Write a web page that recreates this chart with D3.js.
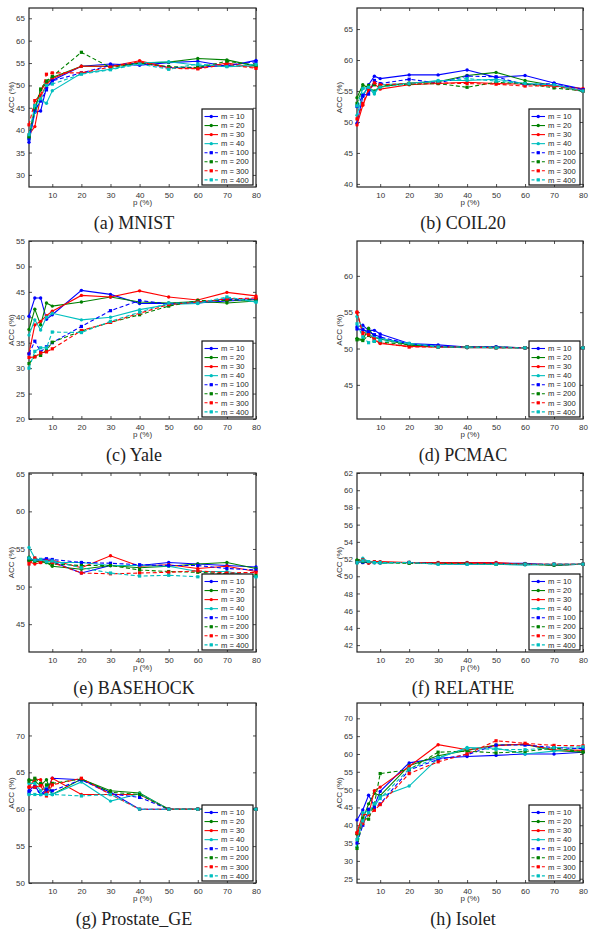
<!DOCTYPE html>
<html>
<head>
<meta charset="utf-8">
<script src="https://cdn.jsdelivr.net/npm/d3@7"></script>
<style>
  body { margin: 0; background: #fff; }
  svg { display: block; }
  .tick text { font-family: "Liberation Sans", Arial, sans-serif; font-size: 8px; fill: #333; }
  .tick line { stroke: #222; stroke-width: 0.8; }
</style>
</head>
<body>
<div id="chart"></div>
<script>
// x values shared by every panel
const pValues = [2, 4, 6, 8, 10, 20, 30, 40, 50, 60, 70, 80];
const xTicks = [10, 20, 30, 40, 50, 60, 70, 80];
const mLabels = ["m = 10", "m = 20", "m = 30", "m = 40", "m = 100", "m = 200", "m = 300", "m = 400"];
const seriesColors = ["#0000ff", "#008000", "#ff0000", "#00bfbf", "#0000ff", "#008000", "#ff0000", "#00bfbf"];

// ACC (%) per m, one row per series in the order of mLabels
const mnistAcc = [
  [37.3, 44.0, 44.3, 49.5, 51.1, 54.3, 54.8, 54.5, 55.1, 55.4, 54.3, 55.6],
  [38.5, 44.5, 49.0, 50.5, 51.8, 54.3, 54.3, 55.0, 55.2, 56.0, 55.7, 54.3],
  [39.0, 40.8, 47.5, 50.2, 51.5, 54.3, 54.3, 55.5, 54.0, 53.8, 55.0, 54.0],
  [38.0, 44.0, 46.8, 46.0, 48.8, 52.7, 53.6, 55.0, 55.3, 54.5, 54.2, 54.4],
  [38.0, 44.5, 46.5, 49.0, 51.0, 52.8, 54.5, 55.0, 54.0, 54.0, 54.5, 55.3],
  [38.5, 45.0, 49.2, 51.0, 52.0, 57.4, 54.0, 55.0, 54.2, 54.0, 55.4, 54.5],
  [41.2, 46.6, 47.8, 52.5, 52.8, 52.8, 54.1, 55.3, 53.8, 53.7, 54.7, 53.8],
  [39.0, 45.5, 47.0, 50.0, 50.3, 52.5, 53.5, 54.8, 53.6, 54.8, 54.2, 54.7]
];
const coilAcc = [
  [49.8, 54.1, 56.0, 57.4, 57.0, 57.6, 57.6, 58.4, 57.2, 57.5, 56.3, 55.3],
  [53.9, 56.0, 55.5, 55.0, 55.7, 56.3, 56.5, 57.5, 58.0, 56.7, 55.9, 55.0],
  [49.5, 52.7, 55.0, 56.2, 55.3, 56.0, 56.2, 56.4, 56.2, 56.1, 55.8, 55.4],
  [51.1, 54.5, 55.5, 54.5, 56.0, 56.2, 56.7, 56.7, 56.9, 56.2, 56.0, 54.9],
  [52.5, 54.3, 54.5, 56.7, 56.2, 56.9, 56.3, 57.4, 57.3, 56.0, 56.2, 55.2],
  [53.0, 55.5, 55.9, 56.0, 55.8, 56.1, 56.2, 55.6, 56.4, 56.2, 55.5, 55.0],
  [50.5, 53.0, 55.3, 56.3, 56.0, 56.2, 56.3, 56.2, 56.1, 55.8, 55.8, 55.0],
  [52.6, 55.4, 55.6, 54.8, 55.6, 56.2, 56.6, 57.0, 56.6, 56.2, 56.0, 55.0]
];
const yaleAcc = [
  [40.2, 43.8, 43.8, 39.6, 40.5, 45.3, 44.5, 42.7, 42.7, 42.8, 43.2, 43.5],
  [37.6, 41.6, 38.5, 42.8, 42.2, 43.0, 44.0, 43.0, 42.8, 43.1, 42.8, 43.2],
  [32.9, 38.5, 39.2, 40.3, 41.2, 44.3, 44.0, 45.2, 44.0, 43.4, 44.9, 44.2],
  [36.5, 39.5, 37.5, 40.0, 40.8, 39.5, 40.0, 41.5, 42.5, 42.7, 43.8, 43.0],
  [32.8, 35.3, 33.2, 34.2, 35.0, 38.2, 41.3, 43.3, 42.6, 43.0, 43.5, 43.6],
  [30.9, 32.3, 32.5, 33.5, 35.1, 37.3, 39.0, 40.5, 42.2, 43.3, 43.3, 43.5],
  [32.1, 32.2, 33.0, 33.2, 33.8, 37.4, 39.0, 40.8, 42.5, 43.0, 43.6, 43.8],
  [30.0, 33.3, 34.0, 34.0, 37.1, 37.0, 39.2, 41.0, 42.8, 42.8, 44.0, 43.0]
];
const pcmacAcc = [
  [53.0, 53.2, 52.5, 52.5, 52.0, 50.7, 50.5, 50.2, 50.2, 50.1, 50.1, 50.1],
  [51.4, 51.2, 52.8, 51.5, 51.3, 50.5, 50.2, 50.2, 50.2, 50.1, 50.1, 50.1],
  [55.0, 52.2, 52.1, 51.2, 50.7, 50.3, 50.2, 50.1, 50.1, 50.1, 50.1, 50.1],
  [54.4, 52.7, 51.9, 51.6, 51.4, 50.7, 50.3, 50.1, 50.1, 50.1, 50.1, 50.1],
  [52.7, 52.6, 52.3, 51.9, 51.6, 50.6, 50.3, 50.2, 50.2, 50.1, 50.1, 50.1],
  [51.2, 51.1, 51.8, 51.0, 50.9, 50.5, 50.2, 50.2, 50.1, 50.1, 50.1, 50.1],
  [55.0, 52.0, 51.9, 51.3, 50.8, 50.2, 50.2, 50.2, 50.1, 50.1, 50.1, 50.1],
  [53.4, 51.6, 50.8, 51.0, 51.1, 50.7, 50.2, 50.2, 50.1, 50.1, 50.1, 50.1]
];
const basehockAcc = [
  [53.5, 53.6, 53.5, 53.6, 53.3, 51.8, 52.8, 52.8, 53.2, 53.0, 52.8, 52.6],
  [53.9, 53.3, 53.4, 53.2, 52.7, 52.3, 52.8, 52.5, 52.7, 53.0, 53.2, 52.4],
  [53.3, 53.0, 53.2, 53.4, 53.5, 52.5, 54.1, 52.7, 52.9, 52.4, 52.7, 52.0],
  [55.2, 53.8, 53.5, 53.4, 53.2, 53.2, 52.8, 52.8, 52.7, 52.0, 52.0, 51.3],
  [53.7, 53.5, 53.6, 53.7, 53.6, 53.2, 53.1, 52.9, 52.8, 52.8, 52.4, 52.2],
  [53.5, 53.4, 53.3, 53.2, 53.0, 52.8, 52.8, 52.2, 52.0, 51.9, 51.7, 51.5],
  [53.0, 53.8, 53.2, 53.4, 53.2, 51.8, 51.7, 51.8, 51.9, 52.1, 51.8, 51.9],
  [53.8, 53.5, 53.6, 53.3, 53.4, 52.5, 51.8, 51.4, 51.5, 51.3, 51.5, 51.3]
];
const relatheAcc = [
  [51.6, 51.8, 51.7, 51.6, 51.6, 51.6, 51.5, 51.4, 51.5, 51.5, 51.3, 51.4],
  [51.9, 51.6, 51.7, 51.6, 51.6, 51.6, 51.5, 51.5, 51.4, 51.4, 51.3, 51.4],
  [51.7, 51.8, 51.5, 51.7, 51.7, 51.6, 51.6, 51.6, 51.6, 51.4, 51.4, 51.4],
  [51.5, 52.1, 51.7, 51.6, 51.5, 51.6, 51.4, 51.4, 51.4, 51.3, 51.4, 51.4],
  [51.7, 51.6, 51.6, 51.6, 51.6, 51.6, 51.5, 51.5, 51.5, 51.4, 51.4, 51.4],
  [51.8, 51.7, 51.6, 51.6, 51.6, 51.5, 51.5, 51.5, 51.4, 51.4, 51.3, 51.4],
  [51.6, 51.9, 51.6, 51.7, 51.6, 51.6, 51.5, 51.5, 51.5, 51.4, 51.4, 51.4],
  [51.6, 51.8, 51.7, 51.6, 51.6, 51.6, 51.4, 51.4, 51.4, 51.4, 51.4, 51.4]
];
const prostateAcc = [
  [62.5, 63.2, 62.0, 62.3, 64.2, 64.0, 62.3, 60.0, 60.0, 60.0, 60.0, 60.0],
  [64.0, 63.8, 63.2, 64.0, 62.0, 64.1, 62.5, 62.2, 60.0, 60.0, 60.0, 60.0],
  [63.0, 64.1, 64.0, 62.0, 64.2, 62.0, 62.0, 62.0, 60.0, 60.0, 60.0, 60.0],
  [63.5, 63.5, 62.5, 63.0, 62.0, 63.7, 61.1, 62.1, 60.0, 60.0, 60.0, 60.0],
  [62.2, 63.0, 62.0, 62.7, 62.5, 64.0, 62.1, 61.6, 60.0, 60.0, 60.0, 60.0],
  [63.8, 64.2, 63.5, 63.3, 63.5, 64.1, 62.3, 62.0, 60.0, 60.0, 60.0, 60.0],
  [63.0, 63.0, 63.2, 61.8, 63.3, 64.2, 62.0, 60.0, 60.0, 60.0, 60.0, 60.0],
  [62.0, 62.0, 62.0, 62.0, 62.0, 61.8, 62.0, 60.0, 60.0, 60.0, 60.0, 60.0]
];
const isoletAcc = [
  [41.5, 44.3, 48.4, 45.5, 49.5, 57.5, 58.8, 59.3, 59.6, 60.0, 60.0, 60.5],
  [37.5, 41.7, 46.0, 49.0, 48.3, 56.7, 59.5, 61.0, 62.5, 62.7, 61.0, 60.5],
  [38.0, 43.0, 43.0, 49.7, 50.7, 56.5, 62.6, 61.2, 62.3, 62.8, 61.2, 61.0],
  [34.0, 43.5, 44.0, 45.0, 48.0, 51.0, 58.8, 61.8, 61.6, 60.0, 60.8, 61.8],
  [35.0, 40.0, 44.5, 45.0, 46.0, 55.5, 58.5, 59.8, 62.5, 62.5, 61.8, 61.5],
  [33.5, 42.0, 41.7, 46.0, 54.5, 55.6, 60.5, 60.8, 60.3, 60.7, 61.7, 60.6],
  [37.8, 40.5, 43.0, 44.2, 45.8, 54.5, 57.8, 60.0, 63.7, 63.0, 62.4, 62.3],
  [36.0, 41.2, 43.5, 46.0, 47.5, 55.8, 59.0, 61.5, 61.3, 61.2, 61.8, 62.0]
];

const captions = ["(a) MNIST", "(b) COIL20", "(c) Yale", "(d) PCMAC",
                  "(e) BASEHOCK", "(f) RELATHE", "(g) Prostate_GE", "(h) Isolet"];
const panelData = [mnistAcc, coilAcc, yaleAcc, pcmacAcc, basehockAcc, relatheAcc, prostateAcc, isoletAcc];
const yDomains = [[27.3, 67.3], [39.5, 68.4], [20, 55], [40.3, 64.8],
                  [41.3, 65.1], [41.2, 62], [50, 74.4], [23.8, 74.3]];
const yTickSets = [
  [30, 35, 40, 45, 50, 55, 60, 65],
  [40, 45, 50, 55, 60, 65],
  [20, 25, 30, 35, 40, 45, 50, 55],
  [45, 50, 55, 60],
  [45, 50, 55, 60, 65],
  [42, 44, 46, 48, 50, 52, 54, 56, 58, 60, 62],
  [50, 55, 60, 65, 70],
  [25, 30, 35, 40, 45, 50, 55, 60, 65, 70]
];

const width = 593, height = 939;
const colX = [[29, 256], [357, 583]];
const rowY = [[8, 187], [241, 419], [473, 652], [703, 883]];
const captionX = [134, 463];

const svg = d3.select("#chart").append("svg")
  .attr("width", width)
  .attr("height", height);

panelData.forEach((data, i) => {
  const [left, right] = colX[i % 2];
  const [top, bottom] = rowY[Math.floor(i / 2)];

  const x = d3.scaleLinear().domain([2, 80]).range([left, right]);
  const y = d3.scaleLinear().domain(yDomains[i]).range([bottom, top]);

  const g = svg.append("g");

  // axes, ticks pointing inward on all four sides (matlab box on)
  const xAxis = g.append("g")
    .attr("transform", `translate(0,${bottom})`)
    .call(d3.axisBottom(x).tickValues(xTicks).tickSize(-3).tickPadding(5));
  g.append("g")
    .attr("transform", `translate(0,${top})`)
    .call(d3.axisTop(x).tickValues(xTicks).tickSize(-3).tickFormat(""));
  g.append("g")
    .attr("transform", `translate(${left},0)`)
    .call(d3.axisLeft(y).tickValues(yTickSets[i]).tickSize(-3).tickPadding(4));
  g.append("g")
    .attr("transform", `translate(${right},0)`)
    .call(d3.axisRight(y).tickValues(yTickSets[i]).tickSize(-3).tickFormat(""));
  g.selectAll(".domain").remove();

  g.append("rect")
    .attr("x", left).attr("y", top)
    .attr("width", right - left).attr("height", bottom - top)
    .attr("fill", "none")
    .attr("stroke", "#222")
    .attr("stroke-width", 1.2);

  g.append("text")
    .attr("x", (left + right) / 2)
    .attr("y", bottom + 18)
    .attr("text-anchor", "middle")
    .style("font-family", "Liberation Sans, Arial, sans-serif")
    .style("font-size", "8px")
    .style("fill", "#333")
    .text("p (%)");

  g.append("text")
    .attr("transform", `translate(${left - 15},${(top + bottom) / 2}) rotate(-90)`)
    .attr("text-anchor", "middle")
    .style("font-family", "Liberation Sans, Arial, sans-serif")
    .style("font-size", "8px")
    .style("fill", "#333")
    .text("ACC (%)");

  const line = d3.line()
    .x((d, k) => x(pValues[k]))
    .y(d => y(d));

  data.forEach((vals, s) => {
    const dashed = s >= 4;
    g.append("path")
      .datum(vals)
      .attr("d", line)
      .attr("fill", "none")
      .attr("stroke", seriesColors[s])
      .attr("stroke-width", 1.1)
      .attr("stroke-dasharray", dashed ? "4,2.5" : null);

    if (dashed) {
      g.selectAll(null)
        .data(vals)
        .join("rect")
        .attr("x", (d, k) => x(pValues[k]) - 1.6)
        .attr("y", d => y(d) - 1.6)
        .attr("width", 3.2).attr("height", 3.2)
        .attr("fill", seriesColors[s]);
    } else {
      g.selectAll(null)
        .data(vals)
        .join("circle")
        .attr("cx", (d, k) => x(pValues[k]))
        .attr("cy", d => y(d))
        .attr("r", 1.7)
        .attr("fill", seriesColors[s]);
    }
  });

  // legend, south-east corner
  const lw = 51, lh = 76;
  const lx = right - lw - 3, ly = bottom - lh - 2;
  const legend = g.append("g");
  legend.append("rect")
    .attr("x", lx).attr("y", ly)
    .attr("width", lw).attr("height", lh)
    .attr("fill", "#fff")
    .attr("stroke", "#111")
    .attr("stroke-width", 1.2);

  mLabels.forEach((lab, s) => {
    const cy = ly + 7.5 + s * 9.05;
    const dashed = s >= 4;
    legend.append("line")
      .attr("x1", lx + 2.5).attr("x2", lx + 16)
      .attr("y1", cy).attr("y2", cy)
      .attr("stroke", seriesColors[s])
      .attr("stroke-width", 1.1)
      .attr("stroke-dasharray", dashed ? "3,2.2" : null);
    if (dashed) {
      legend.append("rect")
        .attr("x", lx + 9.25 - 1.6).attr("y", cy - 1.6)
        .attr("width", 3.2).attr("height", 3.2)
        .attr("fill", seriesColors[s]);
    } else {
      legend.append("circle")
        .attr("cx", lx + 9.25).attr("cy", cy).attr("r", 1.7)
        .attr("fill", seriesColors[s]);
    }
    legend.append("text")
      .attr("x", lx + 19).attr("y", cy + 2.7)
      .style("font-family", "Liberation Sans, Arial, sans-serif")
      .style("font-size", "7.6px")
      .style("fill", "#222")
      .text(lab);
  });

  svg.append("text")
    .attr("x", captionX[i % 2])
    .attr("y", bottom + 42)
    .attr("text-anchor", "middle")
    .style("font-family", "Liberation Serif, DejaVu Serif, serif")
    .style("font-size", "18px")
    .style("fill", "#222")
    .text(captions[i]);
});
</script>
</body>
</html>
